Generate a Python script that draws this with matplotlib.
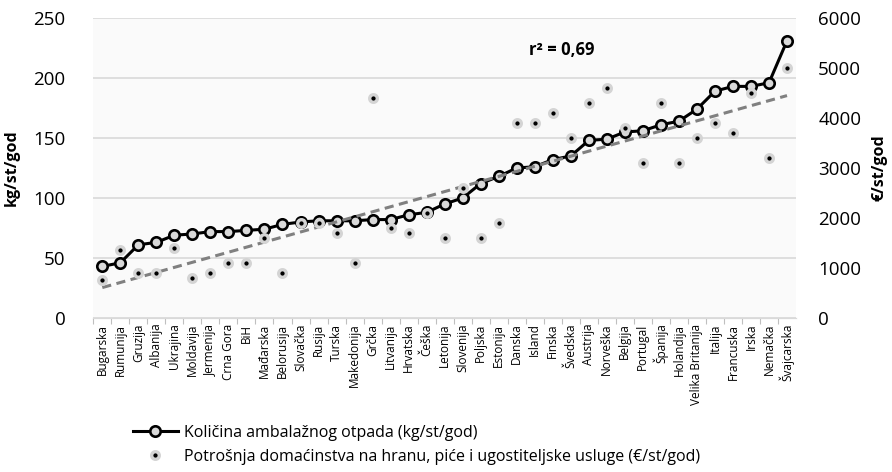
import numpy as np
import matplotlib.pyplot as plt
from matplotlib.lines import Line2D

plt.rcParams["font.family"] = ["Open Sans", "DejaVu Sans"]

countries = [
    "Bugarska", "Rumunija", "Gruzija", "Albanija", "Ukrajina", "Moldavija",
    "Jermenija", "Crna Gora", "BiH", "Mađarska", "Belorusija", "Slovačka",
    "Rusija", "Turska", "Makedonija", "Grčka", "Litvanija", "Hrvatska",
    "Češka", "Letonija", "Slovenija", "Poljska", "Estonija", "Danska",
    "Island", "Finska", "Švedska", "Austrija", "Norveška", "Belgija",
    "Portugal", "Španija", "Holandija", "Velika Britanija", "Italija",
    "Francuska", "Irska", "Nemačka", "Švajcarska",
]

# packaging waste, kg per person per year
waste_kg = [
    43, 46, 61, 63, 69, 70, 72, 72, 73, 74, 78, 80, 81, 81, 81,
    82, 82, 86, 88, 95, 100, 112, 118, 125, 126, 132, 135, 148, 149,
    155, 156, 161, 164, 174, 189, 193, 193, 196, 231,
]

# household spending on food, drinks and catering, EUR per person per year
spending_eur = [
    750, 1350, 900, 900, 1400, 800, 900, 1100, 1100, 1600, 900, 1900, 1900,
    1700, 1100, 4400, 1800, 1700, 2100, 1600, 2600, 1600, 1900, 3900, 3900,
    4100, 3600, 4300, 4600, 3800, 3100, 4300, 3100, 3600, 3900, 3700, 4500,
    3200, 5000,
]

r2_label = "r² = 0,69"
line_label = "Količina ambalažnog otpada (kg/st/god)"
dots_label = "Potrošnja domaćinstva na hranu, piće i ugostiteljske usluge (€/st/god)"

x = np.arange(len(countries))
grid_color = "#d9d9d9"

fig = plt.figure(figsize=(8.92, 4.72), dpi=100)
ax = fig.add_axes([0.1046, 0.3263, 0.7878, 0.6356])
ax2 = ax.twinx()
ax.set_facecolor("#fafafa")

line_style = dict(color="black", lw=2.2, marker="o", ms=7.5, mfc="#d9d9d9",
                  mec="black", mew=1.9)
dot_style = dict(ls="none", marker="o", ms=5.5, mfc="black", mec="#d4d4d4",
                 mew=2.4)

ax.plot(x, waste_kg, zorder=3, **line_style)
ax2.plot(x, spending_eur, zorder=4, **dot_style)
coef = np.polyfit(x, spending_eur, 1)
ax2.plot(x, np.polyval(coef, x), ls=(0, (3, 1.8)), color="#808080", lw=2.2,
         zorder=3)

ax.set_xlim(-0.5, len(countries) - 0.5)
ax.set_ylim(0, 250)
ax2.set_ylim(0, 6000)
ax.set_yticks(np.arange(0, 251, 50))
ax2.set_yticks(np.arange(0, 6001, 1000))
ax.yaxis.grid(True, color=grid_color, lw=1.2)
ax.set_axisbelow(True)

# category labels in the middle, tick marks on the boundaries
ax.set_xticks(x - 0.5, minor=False)
ax.set_xticklabels([])
ax.set_xticks(x, minor=True)
ax.set_xticklabels(countries, minor=True, rotation=90, fontsize=8.5)
ax.tick_params(axis="x", which="major", length=4, color="#bfbfbf")
ax.tick_params(axis="x", which="minor", length=0, pad=4)

ax.tick_params(axis="y", length=0, labelsize=13.5, pad=20)
ax2.tick_params(axis="y", length=0, labelsize=13.5, pad=16)

for a in (ax, ax2):
    for side in ("top", "left", "right"):
        a.spines[side].set_visible(False)
    a.spines["bottom"].set_color(grid_color)

ax.set_ylabel("kg/st/god", fontsize=11.5, fontweight="bold")
ax.yaxis.set_label_coords(-0.105, 0.5)
ax2.set_ylabel("€/st/god", fontsize=11.5, fontweight="bold")
ax2.yaxis.set_label_coords(1.108, 0.5)

ax.text(25.5, 223, r2_label, fontsize=12, fontweight="bold",
        ha="center", va="center")

handles = [Line2D([], [], **line_style), Line2D([], [], **dot_style)]
fig.legend(handles, [line_label, dots_label], loc="upper left",
           bbox_to_anchor=(0.149, 0.1), frameon=False, fontsize=11.5,
           handlelength=2.8, handletextpad=0.4, labelspacing=0.5,
           borderaxespad=0, borderpad=0)

fig.savefig("out.png", dpi=100)
